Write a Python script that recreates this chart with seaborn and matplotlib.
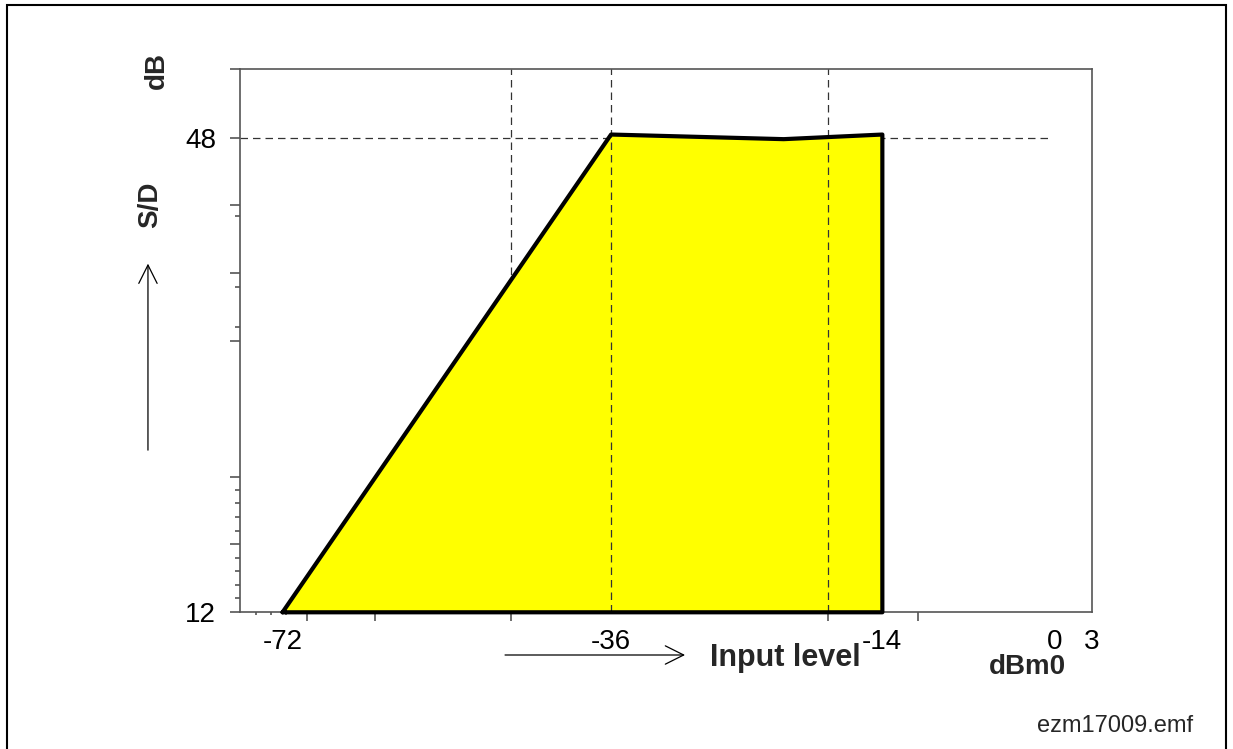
import numpy as np
import pandas as pd
import matplotlib
matplotlib.use("Agg")
import matplotlib.pyplot as plt
from matplotlib.patches import Rectangle, FancyArrowPatch
import seaborn as sns

# =========================
# DATA
# =========================
INPUT_LEVEL = [-72, -36, -22, -14]          # dBm0
SD_RATIO = [12, 48.25, 47.9, 48.25]         # dB
X_LABELED = [-72, -36, -14, 0, 3]
Y_LABELED = [48, 12]
X_TICKS_LONG = [-69.3, -61.9, -47, -18.4, -11.1, 0, 3]
X_TICKS_SHORT = [-75.2, -73.8, -72.4]
Y_TICKS_LONG = [53.2, 48, 42.87, 37.76, 32.58, 22.29, 17.18, 12]
Y_TICKS_SHORT = [42.06, 36.7, 33.64, 21.28, 20.27, 19.25, 18.19, 16.15, 15.14, 14.07, 13.11]
GRID_X = [-47, -36, -18.4]
GRID_Y = 48
GRID_Y_END = -0.5
FLOOR = 12
X_RANGE = (-76.66, 3)
Y_RANGE = (12, 53.2)

# axis below -36 dBm0 is drawn compressed in the original sketch
SQUEEZE = 0.74

def fwd(x):
    x = np.asarray(x, dtype=float)
    return np.where(x < -36, -36 + (x + 36) * SQUEEZE, x)

def inv(u):
    u = np.asarray(u, dtype=float)
    return np.where(u < -36, -36 + (u + 36) / SQUEEZE, u)

# =========================
# STYLE
# =========================
sns.set_theme(style="white")
plt.rcParams['font.family'] = ['Liberation Sans', 'DejaVu Sans']
AX_COL = "#555555"
DASH_COL = "#333333"
DASH = (0, (6, 4))

fig = plt.figure(figsize=(12.33, 7.49), dpi=100)
ax = fig.add_axes([240 / 1233, 1 - 612.3 / 749, 852 / 1233, 543 / 749])
ax.set_xscale('function', functions=(fwd, inv))
ax.set_xlim(*X_RANGE)
ax.set_ylim(*Y_RANGE)

# filled area + outline
outline = pd.DataFrame({
    "x": INPUT_LEVEL + [INPUT_LEVEL[-1], INPUT_LEVEL[0]],
    "y": SD_RATIO + [FLOOR, FLOOR],
})
ax.fill_between(INPUT_LEVEL, SD_RATIO, FLOOR, color="#FFFF00", lw=0, zorder=2)
sns.lineplot(data=outline, x="x", y="y", sort=False, estimator=None, ax=ax,
             color="black", lw=3, zorder=5, clip_on=False)

# dashed helper lines
ax.hlines(GRID_Y, X_RANGE[0], GRID_Y_END, color=DASH_COL, lw=0.9, ls=DASH, zorder=1)
ax.axvline(GRID_X[0], color=DASH_COL, lw=0.9, ls=DASH, zorder=1)
for gx in GRID_X[1:]:
    ax.axvline(gx, color=DASH_COL, lw=0.9, ls=DASH, zorder=4)

# frame
for side in ["left", "bottom", "top", "right"]:
    ax.spines[side].set_color(AX_COL)
    ax.spines[side].set_linewidth(1.2)

# x ticks: labels on major, marks on minor + secondary axis
ax.set_xticks(X_LABELED)
ax.set_xticklabels([str(v) for v in X_LABELED])
ax.set_xticks(X_TICKS_LONG, minor=True)
ax.tick_params(axis="x", which="major", length=0, pad=12, labelsize=20, colors="black")
ax.tick_params(axis="x", which="minor", bottom=True, length=6.5, width=1.2, color=AX_COL)
sec = ax.secondary_xaxis("bottom")
sec.set_xticks(X_TICKS_SHORT)
sec.set_xticklabels([])
sec.tick_params(length=2.5, width=1.2, color=AX_COL)
sec.spines["bottom"].set_visible(False)

# y ticks
ax.set_yticks(Y_TICKS_LONG)
ax.set_yticklabels([str(v) if v in Y_LABELED else "" for v in Y_TICKS_LONG])
ax.set_yticks(Y_TICKS_SHORT, minor=True)
ax.tick_params(axis="y", which="major", left=True, length=7.2, width=1.2, color=AX_COL,
               pad=10, labelsize=20, labelcolor="black")
ax.tick_params(axis="y", which="minor", left=True, length=3.6, width=1.2, color=AX_COL)
ax.set_xlabel("")
ax.set_ylabel("")

# axis captions and arrows
fig.text(0.1217, 0.726, "S/D", rotation=90, ha="center", va="center", fontsize=20, fontweight="bold")
fig.text(0.1273, 0.9065, "dB", rotation=90, ha="center", va="center", fontsize=20, fontweight="bold")
fig.text(0.6367, 0.1215, "Input level", ha="center", va="center", fontsize=22, fontweight="bold")
fig.text(0.833, 0.1095, "dBm0", ha="center", va="center", fontsize=20, fontweight="bold")
fig.text(0.968, 0.031, "ezm17009.emf", ha="right", va="center", fontsize=17)

arrow = dict(arrowstyle="->,head_length=0.6,head_width=0.3", mutation_scale=22,
             color="black", lw=0.9, shrinkA=0, shrinkB=0)
fig.add_artist(FancyArrowPatch((0.12, 0.399), (0.12, 0.648), transform=fig.transFigure, **arrow))
fig.add_artist(FancyArrowPatch((0.4096, 0.1255), (0.5556, 0.1255), transform=fig.transFigure, **arrow))

# page frame
fig.add_artist(Rectangle((7 / 1233, -0.02), 1219 / 1233, 1 - 5 / 749 + 0.02,
                         transform=fig.transFigure, fill=False, ec="black", lw=1.5))

fig.savefig("out.png", dpi=100)
